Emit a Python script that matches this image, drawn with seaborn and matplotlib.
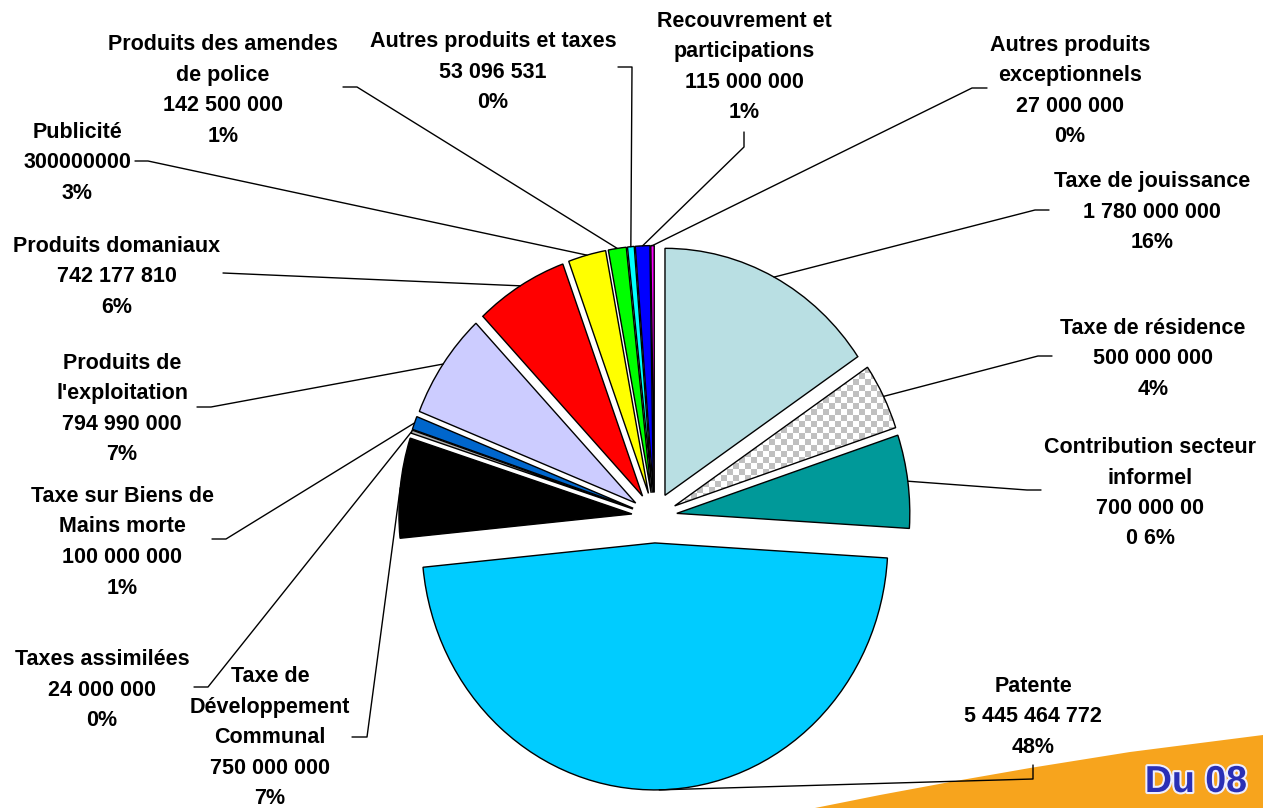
import numpy as np
import matplotlib
matplotlib.use("Agg")
import matplotlib.pyplot as plt
import matplotlib.patheffects as pe
from matplotlib.colors import ListedColormap
import seaborn as sns

# slices, clockwise from 12 o'clock
categories = ["Taxe de jouissance", "Taxe de résidence", "Contribution secteur\ninformel",
              "Patente", "Taxe de\nDéveloppement\nCommunal", "Taxes assimilées",
              "Taxe sur Biens de\nMains morte", "Produits de\nl'exploitation",
              "Produits domaniaux", "Publicité", "Produits des amendes\nde police",
              "Autres produits et taxes", "Recouvrement et\nparticipations",
              "Autres produits\nexceptionnels"]
values = [1780000000, 500000000, 700000000, 5445464772, 750000000, 24000000, 100000000,
          794990000, 742177810, 300000000, 142500000, 53096531, 115000000, 27000000]
value_labels = ["1 780 000 000", "500 000 000", "700 000 00", "5 445 464 772", "750 000 000",
                "24 000 000", "100 000 000", "794 990 000", "742 177 810", "300000000",
                "142 500 000", "53 096 531", "115 000 000", "27 000 000"]
pct_labels = ["16%", "4%", "0 6%", "48%", "7%", "0%", "1%", "7%", "6%", "3%", "1%", "0%", "1%", "0%"]
colors = ["#B9DFE3", "white", "#009999", "#00CCFF", "#000000", "#B0B0B0", "#0066CC",
          "#CCCCFF", "#FF0000", "#FFFF00", "#00FF00", "#00FFFF", "#0000FF", "#FF00FF"]

# label layout in pixels: centre x, first baseline, leader end points
label_pos = [(1152, 187), (1153, 334), (1150, 453), (1033, 692), (270, 682), (102, 665),
             (122, 502), (122, 369), (117, 252), (77, 138), (223, 50), (493, 47),
             (744, 27), (1070, 51)]
leader_tails = [[(1035, 210), (1049, 210)], [(1038, 356), (1052, 356)],
                [(1027, 490), (1041, 490)], [(1033, 779), (1033, 765)],
                [(367, 737), (352, 737)], [(208, 687), (194, 687)],
                [(226, 539), (212, 539)], [(211, 407), (197, 407)],
                [(223, 273)], [(148, 161), (135, 161)],
                [(357, 87), (343, 87)], [(632, 67), (618, 67)],
                [(744, 147), (744, 132)], [(972, 88), (987, 88)]]

sns.set_theme(style="white")
plt.rcParams['font.family'] = ['Liberation Sans', 'DejaVu Sans']

W, H = 1263, 808
cx, cy, rx, ry = 654.4, 516.5, 233.0, 247.0


def to_data(x, y):
    return (x - cx) / rx, (cy - y) / ry


fig = plt.figure(figsize=(W / 100, H / 100), dpi=100)
ax = fig.add_axes([0, 0, 1, 1])

explode = [0.107 if c == "Patente" else 0.097 for c in categories]
wedges, _ = ax.pie(values, colors=colors, explode=explode, startangle=90,
                   counterclock=False, wedgeprops=dict(edgecolor='black', linewidth=1))

# checkered fill for "Taxe de résidence"
x0, x1, y0, y1 = 655, 907, 355, 523
nx, ny = int((x1 - x0) / 6), int((y1 - y0) / 6)
board = np.add.outer(np.arange(ny), np.arange(nx)) % 2
l, t = to_data(x0, y0)
r, b = to_data(x0 + nx * 6, y0 + ny * 6)
im = ax.imshow(board, cmap=ListedColormap(['white', '#C0C0C0']), extent=(l, r, b, t),
               aspect='auto', interpolation='nearest', zorder=0.9)
wedges[1].set_facecolor('none')
im.set_clip_path(wedges[1])

# labels and leader lines
for i, w in enumerate(wedges):
    ang = np.deg2rad((w.theta1 + w.theta2) / 2)
    sx = w.center[0] + w.r * np.cos(ang)
    sy = w.center[1] + w.r * np.sin(ang)
    pts = [(sx, sy)] + [to_data(px, py) for px, py in leader_tails[i]]
    ax.plot([p[0] for p in pts], [p[1] for p in pts], color='black', lw=1, zorder=2)

    lines = categories[i].split("\n") + [value_labels[i], pct_labels[i]]
    lx, ly = label_pos[i]
    for j, line in enumerate(lines):
        ax.text(*to_data(lx, ly + j * 30.5), line, ha='center', va='baseline',
                fontsize=15.5, fontweight='bold', color='black', zorder=3)

# orange corner logo
sw = [(815, 808), (880, 795), (950, 782), (1030, 768), (1130, 752), (1263, 735), (1263, 808)]
sw_d = [to_data(px, py) for px, py in sw]
ax.fill([p[0] for p in sw_d], [p[1] for p in sw_d], color='#F7A41D', lw=0, zorder=0)
ax.text(*to_data(1196, 792), "Du 08", ha='center', va='baseline', fontsize=27,
        fontweight='bold', color='#2A2FB5', zorder=3,
        path_effects=[pe.withStroke(linewidth=3, foreground='#EEEEFF')])

ax.set_aspect('auto')
ax.set_xlim(-cx / rx, (W - cx) / rx)
ax.set_ylim((cy - H) / ry, cy / ry)
ax.axis('off')

fig.savefig('out.png', dpi=100)
